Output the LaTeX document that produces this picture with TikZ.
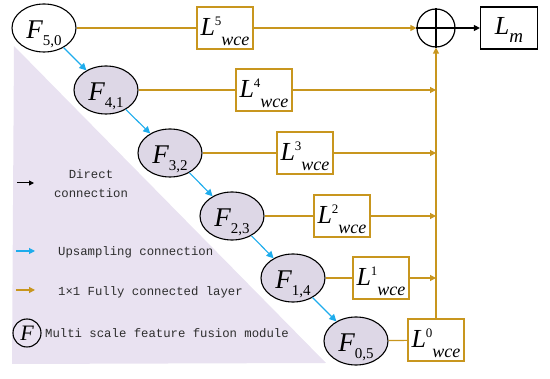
\documentclass[tikz,border=0pt]{standalone}
\usepackage{fontspec}
\setmainfont{Liberation Serif}
\setmonofont{Liberation Mono}
\usetikzlibrary{shapes.geometric,arrows.meta}
\definecolor{gold}{RGB}{200,150,30}
\definecolor{skyb}{RGB}{30,172,236}
\definecolor{lav}{RGB}{233,226,241}
\definecolor{lavc}{RGB}{221,215,230}
\definecolor{legtxt}{RGB}{45,45,45}
\newcommand{\Fl}[2]{\fontsize{27}{27}\selectfont\itshape F\raisebox{-7pt}{\upshape\fontsize{15}{15}\selectfont #1,#2}}
\newcommand{\Lw}[1]{\fontsize{26}{26}\selectfont\itshape L\raisebox{10pt}{\upshape\fontsize{13}{13}\selectfont #1}\raisebox{-10pt}{\fontsize{18}{18}\selectfont wce}}
\tikzset{
  fnode/.style={ellipse,draw=black,line width=1.1pt,fill=lavc,minimum width=64pt,minimum height=48pt,inner sep=0pt},
  lbox/.style={rectangle,draw=gold,line width=1.2pt,fill=white,minimum width=56pt,minimum height=42pt,inner sep=0pt},
  gline/.style={draw=gold,line width=1.2pt},
  garrow/.style={gline,-{Triangle[length=6pt,width=6pt]}},
  barrow/.style={draw=skyb,line width=1.1pt,-{Triangle[length=7pt,width=7pt]}},
  karrow/.style={draw=black,line width=1.1pt,-{Triangle[length=6pt,width=6pt]}},
  lgtxt/.style={font=\ttfamily\fontsize{12.3}{19}\selectfont,text=legtxt,inner sep=0pt},
}
\begin{document}
\begin{tikzpicture}[x=1pt,y=-1pt]
\useasboundingbox (0,0) rectangle (550,379);
% purple triangle
\fill[lav] (14,46) -- (326,363) -- (12,364) -- cycle;
% feature nodes
\node[fnode,fill=white] (F50) at (44,28) {};
\node[fnode] (F41) at (106,90) {};
\node[fnode] (F32) at (170,153) {};
\node[fnode] (F23) at (232,216) {};
\node[fnode] (F14) at (293,278) {};
\node[fnode] (F05) at (356,341) {};
\node[yshift=-6pt] at (F50) {\Fl{5}{0}};
\node[yshift=-6pt] at (F41) {\Fl{4}{1}};
\node[yshift=-6pt] at (F32) {\Fl{3}{2}};
\node[yshift=-6pt] at (F23) {\Fl{2}{3}};
\node[yshift=-6pt] at (F14) {\Fl{1}{4}};
\node[yshift=-6pt] at (F05) {\Fl{0}{5}};
% loss boxes
\node[lbox] (L5) at (225,28) {};
\node[lbox] (L4) at (264,90) {};
\node[lbox] (L3) at (305,153) {};
\node[lbox] (L2) at (342,216) {};
\node[lbox] (L1) at (381,278) {};
\node[lbox] (L0) at (436,340) {};
\node[yshift=-3.5pt] at (L5) {\Lw{5}};
\node[yshift=-3.5pt] at (L4) {\Lw{4}};
\node[yshift=-3.5pt] at (L3) {\Lw{3}};
\node[yshift=-3.5pt] at (L2) {\Lw{2}};
\node[yshift=-3.5pt] at (L1) {\Lw{1}};
\node[yshift=-3.5pt] at (L0) {\Lw{0}};
% sum and output
\node[circle,draw=black,line width=1.2pt,minimum size=38pt,inner sep=0pt] (plus) at (436,28) {};
\draw[line width=1.2pt] (plus.north) -- (plus.south) (plus.west) -- (plus.east);
\node[rectangle,draw=black,line width=1.2pt,minimum width=57pt,minimum height=42pt,inner sep=0pt] (Lm) at (509,28) {};
\node[yshift=-2pt] at (Lm) {\fontsize{26}{26}\selectfont\itshape L\raisebox{-8pt}{\fontsize{19}{19}\selectfont m}};
% connectors
\draw[barrow] (F50) -- (F41);
\draw[barrow] (F41) -- (F32);
\draw[barrow] (F32) -- (F23);
\draw[barrow] (F23) -- (F14);
\draw[barrow] (F14) -- (F05);
\draw[gline] (F50) -- (L5);
\draw[gline] (F41) -- (L4);
\draw[gline] (F32) -- (L3);
\draw[gline] (F23) -- (L2);
\draw[gline] (F14) -- (L1);
\draw[gline] (F05) -- (L0);
\draw[garrow] (L5) -- (plus);
\draw[garrow] (L4.east) -- (L4.east -| plus.south);
\draw[garrow] (L3.east) -- (L3.east -| plus.south);
\draw[garrow] (L2.east) -- (L2.east -| plus.south);
\draw[garrow] (L1.east) -- (L1.east -| plus.south);
\draw[garrow] (L0.north) -- (plus.south);
\draw[karrow] (plus) -- (Lm);
% legend
\coordinate (k1) at (17,183); \coordinate (k2) at (34,183);
\draw[karrow,line width=1pt,-{Triangle[length=5pt,width=5pt]}] (k1) -- (k2);
\node[lgtxt,align=center] (t1) at (91,184) {Direct\\connection};
\coordinate (b1) at (16,251); \coordinate (b2) at (35,251);
\draw[barrow,-{Triangle[length=6pt,width=6pt]}] (b1) -- (b2);
\node[lgtxt,anchor=west] (t2) at (58,252) {Upsampling connection};
\coordinate (g1) at (16,290); \coordinate (g2) at (35,290);
\draw[garrow] (g1) -- (g2);
\node[lgtxt,anchor=west] (t3) at (58,292) {1×1 Fully connected layer};
\node[circle,draw=black,line width=1.1pt,minimum size=28pt,inner sep=0pt] (fl) at (27,333) {};
\node at (fl) {\fontsize{22}{22}\selectfont\itshape F};
\node[lgtxt,anchor=west] (t4) at (45,333) {Multi scale feature fusion module};
\end{tikzpicture}
\end{document}
